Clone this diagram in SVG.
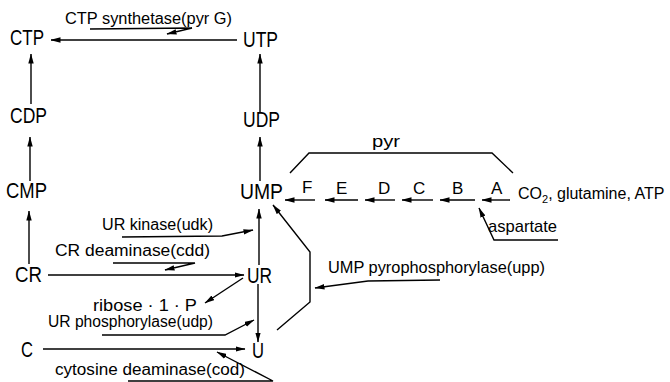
<svg xmlns="http://www.w3.org/2000/svg" width="670" height="382" viewBox="0 0 670 382">
<style>
text{font-family:"Liberation Sans",Arial,sans-serif;fill:#000}
.n{font-size:22px}
.l{font-size:16px}
.c{font-size:17px}
.ln{fill:none;stroke:#000;stroke-width:1.4}
.a{marker-end:url(#ah)}
</style>
<defs>
<marker id="ah" markerWidth="10" markerHeight="6" refX="9.5" refY="3" orient="auto" markerUnits="userSpaceOnUse"><path d="M0,0.3 L10,3 L0,5.7 z" fill="#000"/></marker>
</defs>
<rect width="670" height="382" fill="#fff"/>
<g id="connectors">
<path class="ln a" d="M237,40 L51,40"/>
<path class="ln a" d="M90,29 L192,28 L167,34"/>
<path class="ln a" d="M31,104 L31,54"/>
<path class="ln a" d="M260,112 L260,54"/>
<path class="ln a" d="M30,181 L30,137"/>
<path class="ln a" d="M260,181 L260,137"/>
<path class="ln a" d="M29,264 L29,211"/>
<path class="ln a" d="M259,265 L259,209"/>
<path class="ln a" d="M258,284 L258,342"/>
<path class="ln a" d="M48,275 L244,275"/>
<path class="ln a" d="M43,349 L245,349"/>
<path class="ln a" d="M243,278 L205,303"/>
<path class="ln a" d="M122,237 L222,236 L253,230"/>
<path class="ln a" d="M113,263 L195,263 L165,270"/>
<path class="ln a" d="M102,335 L225,335 L254,320"/>
<path class="ln a" d="M128,381 L273,381 L217,352"/>
<path class="ln a" d="M277,330 L310,302 L310,252 L273,205"/>
<path class="ln a" d="M440,280 L368,281 L315,288"/>
<path class="ln" d="M290,173 L309,153 L492,153 L513,173"/>
<path class="ln a" d="M315,200 L285,200"/>
<path class="ln a" d="M358,200 L325,200"/>
<path class="ln a" d="M395,200 L365,200"/>
<path class="ln a" d="M433,200 L402,200"/>
<path class="ln a" d="M475,200 L440,200"/>
<path class="ln a" d="M510,200 L482,200"/>
<path class="ln a" d="M558,240 L494,240 L479,208"/>
</g>
<g id="CTP"><text class="n" x="10" y="45" textLength="34" lengthAdjust="spacingAndGlyphs">CTP</text></g>
<g id="UTP"><text class="n" x="243" y="47" textLength="35" lengthAdjust="spacingAndGlyphs">UTP</text></g>
<g id="CDP"><text class="n" x="10" y="123" textLength="37" lengthAdjust="spacingAndGlyphs">CDP</text></g>
<g id="UDP"><text class="n" x="243" y="127" textLength="37" lengthAdjust="spacingAndGlyphs">UDP</text></g>
<g id="CMP"><text class="n" x="6" y="198" textLength="41" lengthAdjust="spacingAndGlyphs">CMP</text></g>
<g id="UMP"><text class="n" x="240" y="199" textLength="43" lengthAdjust="spacingAndGlyphs">UMP</text></g>
<g id="CR"><text class="n" x="15" y="282" textLength="27" lengthAdjust="spacingAndGlyphs">CR</text></g>
<g id="UR"><text class="n" x="247" y="283" textLength="25" lengthAdjust="spacingAndGlyphs">UR</text></g>
<g id="C"><text class="n" x="21" y="357" textLength="12" lengthAdjust="spacingAndGlyphs">C</text></g>
<g id="U"><text class="n" x="252" y="358" textLength="12" lengthAdjust="spacingAndGlyphs">U</text></g>
<g id="ribose1P"><text class="l" x="93" y="311" textLength="104" lengthAdjust="spacingAndGlyphs">ribose · 1 · P</text></g>
<g id="substrates"><text x="518" y="199" style="font-size:16px">CO<tspan dy="4" style="font-size:11px">2</tspan><tspan dy="-4">, glutamine, ATP</tspan></text></g>
<g id="aspartate"><text class="c" x="488" y="232" textLength="69" lengthAdjust="spacingAndGlyphs">aspartate</text></g>
<g id="enzymes">
<text class="l" x="65" y="24" textLength="167" lengthAdjust="spacingAndGlyphs">CTP synthetase(pyr G)</text>
<text class="l" x="102" y="230" textLength="111" lengthAdjust="spacingAndGlyphs">UR kinase(udk)</text>
<text class="l" x="55" y="256" textLength="155" lengthAdjust="spacingAndGlyphs">CR  deaminase(cdd)</text>
<text class="l" x="48" y="327" textLength="165" lengthAdjust="spacingAndGlyphs">UR phosphorylase(udp)</text>
<text class="l" x="55" y="375" textLength="190" lengthAdjust="spacingAndGlyphs">cytosine  deaminase(cod)</text>
<text class="l" x="328" y="273" textLength="217" lengthAdjust="spacingAndGlyphs">UMP pyrophosphorylase(upp)</text>
<text class="l" x="372" y="147" textLength="28" lengthAdjust="spacingAndGlyphs">pyr</text>
</g>
<g id="pyr-genes">
<text class="c" x="302" y="193">F</text>
<text class="c" x="336" y="194">E</text>
<text class="c" x="378" y="194">D</text>
<text class="c" x="413" y="194">C</text>
<text class="c" x="452" y="194">B</text>
<text class="c" x="491" y="194">A</text>
</g>
</svg>
